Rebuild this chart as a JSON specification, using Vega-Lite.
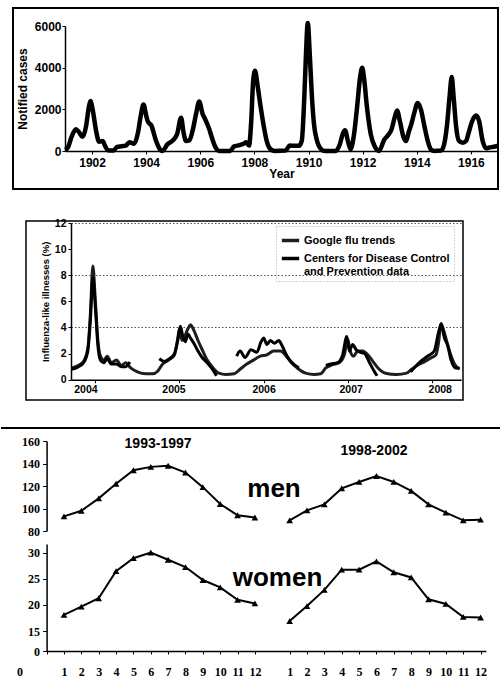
{
  "$schema": "https://vega.github.io/schema/vega-lite/v6.json",
  "padding": {"left": 0, "top": 7, "right": 0, "bottom": 0},
  "background": "white",
  "bounds": "full",
  "spacing": 25,
  "config": {
    "view": {"stroke": "black", "strokeWidth": 2},
    "axis": {
      "domainColor": "black", "domainWidth": 1.5, "tickColor": "black", "labelColor": "black", "titleColor": "black",
      "grid": false, "labelFont": "Liberation Sans", "titleFont": "Liberation Sans",
      "labelFontWeight": "bold", "titleFontWeight": "bold", "labelOverlap": false
    },
    "legend": {
      "labelFont": "Liberation Sans", "labelFontWeight": "bold", "labelFontSize": 11, "labelColor": "black",
      "symbolType": "stroke", "symbolStrokeWidth": 3.5, "symbolSize": 300, "strokeColor": "#aaaaaa",
      "strokeDash": [1, 2], "padding": 4, "rowPadding": -3, "labelOffset": 3, "labelLimit": 300
    }
  },
  "datasets": {
    "flu": [
      {"s":"Google flu trends","g":"G","t":2003.72,"v":0.9},{"s":"Google flu trends","g":"G","t":2003.8,"v":1.1},{"s":"Google flu trends","g":"G","t":2003.86,"v":1.4},{"s":"Google flu trends","g":"G","t":2003.91,"v":2.4},{"s":"Google flu trends","g":"G","t":2003.94,"v":5.0},{"s":"Google flu trends","g":"G","t":2003.97,"v":8.7},{"s":"Google flu trends","g":"G","t":2004.0,"v":6.0},{"s":"Google flu trends","g":"G","t":2004.03,"v":3.0},{"s":"Google flu trends","g":"G","t":2004.06,"v":1.8},{"s":"Google flu trends","g":"G","t":2004.1,"v":1.5},{"s":"Google flu trends","g":"G","t":2004.14,"v":1.8},{"s":"Google flu trends","g":"G","t":2004.19,"v":1.3},{"s":"Google flu trends","g":"G","t":2004.25,"v":1.5},{"s":"Google flu trends","g":"G","t":2004.31,"v":1.1},{"s":"Google flu trends","g":"G","t":2004.36,"v":1.3},{"s":"Google flu trends","g":"G","t":2004.42,"v":0.9},{"s":"Google flu trends","g":"G","t":2004.5,"v":0.6},{"s":"Google flu trends","g":"G","t":2004.6,"v":0.45},{"s":"Google flu trends","g":"G","t":2004.68,"v":0.45},{"s":"Google flu trends","g":"G","t":2004.74,"v":0.65},{"s":"Google flu trends","g":"G","t":2004.8,"v":1.2},{"s":"Google flu trends","g":"G","t":2004.87,"v":1.5},{"s":"Google flu trends","g":"G","t":2004.94,"v":1.9},{"s":"Google flu trends","g":"G","t":2004.98,"v":3.2},{"s":"Google flu trends","g":"G","t":2005.0,"v":3.9},{"s":"Google flu trends","g":"G","t":2005.03,"v":3.0},{"s":"Google flu trends","g":"G","t":2005.06,"v":3.3},{"s":"Google flu trends","g":"G","t":2005.1,"v":3.9},{"s":"Google flu trends","g":"G","t":2005.13,"v":4.2},{"s":"Google flu trends","g":"G","t":2005.17,"v":3.8},{"s":"Google flu trends","g":"G","t":2005.22,"v":3.0},{"s":"Google flu trends","g":"G","t":2005.27,"v":2.3},{"s":"Google flu trends","g":"G","t":2005.33,"v":1.5},{"s":"Google flu trends","g":"G","t":2005.4,"v":0.9},{"s":"Google flu trends","g":"G","t":2005.47,"v":0.5},{"s":"Google flu trends","g":"G","t":2005.55,"v":0.4},{"s":"Google flu trends","g":"G","t":2005.65,"v":0.45},{"s":"Google flu trends","g":"G","t":2005.72,"v":0.8},{"s":"Google flu trends","g":"G","t":2005.8,"v":1.2},{"s":"Google flu trends","g":"G","t":2005.88,"v":1.5},{"s":"Google flu trends","g":"G","t":2005.96,"v":1.8},{"s":"Google flu trends","g":"G","t":2006.04,"v":1.9},{"s":"Google flu trends","g":"G","t":2006.12,"v":2.2},{"s":"Google flu trends","g":"G","t":2006.2,"v":2.2},{"s":"Google flu trends","g":"G","t":2006.27,"v":1.8},{"s":"Google flu trends","g":"G","t":2006.33,"v":1.3},{"s":"Google flu trends","g":"G","t":2006.4,"v":0.9},{"s":"Google flu trends","g":"G","t":2006.5,"v":0.5},{"s":"Google flu trends","g":"G","t":2006.6,"v":0.4},{"s":"Google flu trends","g":"G","t":2006.68,"v":0.45},{"s":"Google flu trends","g":"G","t":2006.74,"v":0.9},{"s":"Google flu trends","g":"G","t":2006.82,"v":1.15},{"s":"Google flu trends","g":"G","t":2006.9,"v":1.3},{"s":"Google flu trends","g":"G","t":2006.96,"v":1.9},{"s":"Google flu trends","g":"G","t":2007.0,"v":3.1},{"s":"Google flu trends","g":"G","t":2007.03,"v":2.2},{"s":"Google flu trends","g":"G","t":2007.07,"v":1.8},{"s":"Google flu trends","g":"G","t":2007.12,"v":2.2},{"s":"Google flu trends","g":"G","t":2007.18,"v":2.2},{"s":"Google flu trends","g":"G","t":2007.24,"v":1.9},{"s":"Google flu trends","g":"G","t":2007.3,"v":1.4},{"s":"Google flu trends","g":"G","t":2007.36,"v":0.9},{"s":"Google flu trends","g":"G","t":2007.45,"v":0.5},{"s":"Google flu trends","g":"G","t":2007.58,"v":0.4},{"s":"Google flu trends","g":"G","t":2007.7,"v":0.5},{"s":"Google flu trends","g":"G","t":2007.76,"v":0.8},{"s":"Google flu trends","g":"G","t":2007.84,"v":1.15},{"s":"Google flu trends","g":"G","t":2007.92,"v":1.4},{"s":"Google flu trends","g":"G","t":2008.0,"v":1.7},{"s":"Google flu trends","g":"G","t":2008.05,"v":1.9},{"s":"Google flu trends","g":"G","t":2008.08,"v":2.8},{"s":"Google flu trends","g":"G","t":2008.11,"v":4.3},{"s":"Google flu trends","g":"G","t":2008.14,"v":3.8},{"s":"Google flu trends","g":"G","t":2008.18,"v":2.9},{"s":"Google flu trends","g":"G","t":2008.22,"v":2.0},{"s":"Google flu trends","g":"G","t":2008.27,"v":1.2},{"s":"Google flu trends","g":"G","t":2008.33,"v":0.8},
      {"s":"Centers for Disease Control and Prevention data","g":"C1","t":2003.72,"v":0.8},{"s":"Centers for Disease Control and Prevention data","g":"C1","t":2003.8,"v":1.0},{"s":"Centers for Disease Control and Prevention data","g":"C1","t":2003.86,"v":1.3},{"s":"Centers for Disease Control and Prevention data","g":"C1","t":2003.91,"v":2.2},{"s":"Centers for Disease Control and Prevention data","g":"C1","t":2003.94,"v":4.5},{"s":"Centers for Disease Control and Prevention data","g":"C1","t":2003.97,"v":7.8},{"s":"Centers for Disease Control and Prevention data","g":"C1","t":2004.0,"v":5.5},{"s":"Centers for Disease Control and Prevention data","g":"C1","t":2004.03,"v":2.6},{"s":"Centers for Disease Control and Prevention data","g":"C1","t":2004.06,"v":1.5},{"s":"Centers for Disease Control and Prevention data","g":"C1","t":2004.1,"v":1.3},{"s":"Centers for Disease Control and Prevention data","g":"C1","t":2004.14,"v":1.6},{"s":"Centers for Disease Control and Prevention data","g":"C1","t":2004.19,"v":1.2},{"s":"Centers for Disease Control and Prevention data","g":"C1","t":2004.25,"v":1.2},{"s":"Centers for Disease Control and Prevention data","g":"C1","t":2004.31,"v":1.0},{"s":"Centers for Disease Control and Prevention data","g":"C1","t":2004.36,"v":1.0},{"s":"Centers for Disease Control and Prevention data","g":"C1","t":2004.41,"v":1.35},
      {"s":"Centers for Disease Control and Prevention data","g":"C2","t":2004.76,"v":1.6},{"s":"Centers for Disease Control and Prevention data","g":"C2","t":2004.82,"v":1.4},{"s":"Centers for Disease Control and Prevention data","g":"C2","t":2004.88,"v":1.6},{"s":"Centers for Disease Control and Prevention data","g":"C2","t":2004.94,"v":2.0},{"s":"Centers for Disease Control and Prevention data","g":"C2","t":2004.98,"v":3.0},{"s":"Centers for Disease Control and Prevention data","g":"C2","t":2005.01,"v":4.1},{"s":"Centers for Disease Control and Prevention data","g":"C2","t":2005.04,"v":3.3},{"s":"Centers for Disease Control and Prevention data","g":"C2","t":2005.07,"v":2.9},{"s":"Centers for Disease Control and Prevention data","g":"C2","t":2005.1,"v":3.5},{"s":"Centers for Disease Control and Prevention data","g":"C2","t":2005.13,"v":3.2},{"s":"Centers for Disease Control and Prevention data","g":"C2","t":2005.17,"v":2.8},{"s":"Centers for Disease Control and Prevention data","g":"C2","t":2005.22,"v":2.2},{"s":"Centers for Disease Control and Prevention data","g":"C2","t":2005.27,"v":1.7},{"s":"Centers for Disease Control and Prevention data","g":"C2","t":2005.33,"v":1.3},{"s":"Centers for Disease Control and Prevention data","g":"C2","t":2005.38,"v":0.9},{"s":"Centers for Disease Control and Prevention data","g":"C2","t":2005.44,"v":0.3},
      {"s":"Centers for Disease Control and Prevention data","g":"C3","t":2005.68,"v":1.8},{"s":"Centers for Disease Control and Prevention data","g":"C3","t":2005.72,"v":2.2},{"s":"Centers for Disease Control and Prevention data","g":"C3","t":2005.78,"v":1.7},{"s":"Centers for Disease Control and Prevention data","g":"C3","t":2005.85,"v":2.3},{"s":"Centers for Disease Control and Prevention data","g":"C3","t":2005.92,"v":2.1},{"s":"Centers for Disease Control and Prevention data","g":"C3","t":2005.97,"v":2.9},{"s":"Centers for Disease Control and Prevention data","g":"C3","t":2006.0,"v":3.2},{"s":"Centers for Disease Control and Prevention data","g":"C3","t":2006.04,"v":2.7},{"s":"Centers for Disease Control and Prevention data","g":"C3","t":2006.08,"v":3.0},{"s":"Centers for Disease Control and Prevention data","g":"C3","t":2006.13,"v":2.8},{"s":"Centers for Disease Control and Prevention data","g":"C3","t":2006.18,"v":3.0},{"s":"Centers for Disease Control and Prevention data","g":"C3","t":2006.22,"v":2.6},{"s":"Centers for Disease Control and Prevention data","g":"C3","t":2006.28,"v":1.8},{"s":"Centers for Disease Control and Prevention data","g":"C3","t":2006.34,"v":1.3},{"s":"Centers for Disease Control and Prevention data","g":"C3","t":2006.42,"v":0.9},
      {"s":"Centers for Disease Control and Prevention data","g":"C4","t":2006.74,"v":1.1},{"s":"Centers for Disease Control and Prevention data","g":"C4","t":2006.8,"v":1.2},{"s":"Centers for Disease Control and Prevention data","g":"C4","t":2006.88,"v":1.3},{"s":"Centers for Disease Control and Prevention data","g":"C4","t":2006.94,"v":1.9},{"s":"Centers for Disease Control and Prevention data","g":"C4","t":2006.99,"v":3.3},{"s":"Centers for Disease Control and Prevention data","g":"C4","t":2007.02,"v":2.2},{"s":"Centers for Disease Control and Prevention data","g":"C4","t":2007.06,"v":2.7},{"s":"Centers for Disease Control and Prevention data","g":"C4","t":2007.1,"v":2.3},{"s":"Centers for Disease Control and Prevention data","g":"C4","t":2007.15,"v":2.1},{"s":"Centers for Disease Control and Prevention data","g":"C4","t":2007.2,"v":2.0},{"s":"Centers for Disease Control and Prevention data","g":"C4","t":2007.26,"v":1.3},{"s":"Centers for Disease Control and Prevention data","g":"C4","t":2007.32,"v":0.6},{"s":"Centers for Disease Control and Prevention data","g":"C4","t":2007.35,"v":0.3},
      {"s":"Centers for Disease Control and Prevention data","g":"C5","t":2007.75,"v":0.6},{"s":"Centers for Disease Control and Prevention data","g":"C5","t":2007.85,"v":1.3},{"s":"Centers for Disease Control and Prevention data","g":"C5","t":2007.95,"v":1.8},{"s":"Centers for Disease Control and Prevention data","g":"C5","t":2008.03,"v":2.2},{"s":"Centers for Disease Control and Prevention data","g":"C5","t":2008.08,"v":3.6},{"s":"Centers for Disease Control and Prevention data","g":"C5","t":2008.11,"v":4.2},{"s":"Centers for Disease Control and Prevention data","g":"C5","t":2008.15,"v":3.2},{"s":"Centers for Disease Control and Prevention data","g":"C5","t":2008.19,"v":2.6},{"s":"Centers for Disease Control and Prevention data","g":"C5","t":2008.23,"v":1.5},{"s":"Centers for Disease Control and Prevention data","g":"C5","t":2008.28,"v":0.9},{"s":"Centers for Disease Control and Prevention data","g":"C5","t":2008.33,"v":0.9}
    ],
    "seasonal": [
      {"period":"1993-1997","pos":1,"men":93,"women":18.1},{"period":"1993-1997","pos":2,"men":98,"women":19.7},{"period":"1993-1997","pos":3,"men":109,"women":21.3},{"period":"1993-1997","pos":4,"men":122,"women":26.5},{"period":"1993-1997","pos":5,"men":134,"women":29.0},{"period":"1993-1997","pos":6,"men":137,"women":30.1},{"period":"1993-1997","pos":7,"men":138,"women":28.7},{"period":"1993-1997","pos":8,"men":132,"women":27.3},{"period":"1993-1997","pos":9,"men":119,"women":24.8},{"period":"1993-1997","pos":10,"men":104,"women":23.4},{"period":"1993-1997","pos":11,"men":94,"women":21.0},{"period":"1993-1997","pos":12,"men":92,"women":20.3},
      {"period":"1998-2002","pos":14,"men":89.5,"women":16.9},{"period":"1998-2002","pos":15,"men":98.4,"women":19.8},{"period":"1998-2002","pos":16,"men":103.7,"women":22.9},{"period":"1998-2002","pos":17,"men":118,"women":26.8},{"period":"1998-2002","pos":18,"men":123.6,"women":26.8},{"period":"1998-2002","pos":19,"men":128.9,"women":28.4},{"period":"1998-2002","pos":20,"men":123.6,"women":26.3},{"period":"1998-2002","pos":21,"men":115.6,"women":25.3},{"period":"1998-2002","pos":22,"men":103.7,"women":21.1},{"period":"1998-2002","pos":23,"men":96.3,"women":20.2},{"period":"1998-2002","pos":24,"men":89.5,"women":17.7},{"period":"1998-2002","pos":25,"men":90.1,"women":17.6}
    ]
  },
  "vconcat": [
    {
      "hconcat": [
        {"width": 12, "height": 184, "view": {"stroke": null}, "data": {"values": []}, "mark": "point", "encoding": {}},
        {
          "width": 485, "height": 181,
          "data": {"values": [
            {"year":1901.0,"cases":50},{"year":1901.1,"cases":150},{"year":1901.25,"cases":700},{"year":1901.4,"cases":1050},{"year":1901.52,"cases":900},{"year":1901.65,"cases":680},{"year":1901.78,"cases":1200},{"year":1901.88,"cases":2100},{"year":1901.94,"cases":2400},{"year":1902.02,"cases":2000},{"year":1902.15,"cases":960},{"year":1902.26,"cases":450},{"year":1902.39,"cases":480},{"year":1902.48,"cases":250},{"year":1902.58,"cases":40},{"year":1902.8,"cases":20},{"year":1902.92,"cases":200},{"year":1903.1,"cases":230},{"year":1903.25,"cases":260},{"year":1903.38,"cases":420},{"year":1903.55,"cases":350},{"year":1903.7,"cases":900},{"year":1903.8,"cases":1700},{"year":1903.9,"cases":2230},{"year":1904.0,"cases":1700},{"year":1904.05,"cases":1450},{"year":1904.2,"cases":1200},{"year":1904.36,"cases":500},{"year":1904.52,"cases":60},{"year":1904.6,"cases":0},{"year":1904.79,"cases":330},{"year":1904.98,"cases":500},{"year":1905.14,"cases":800},{"year":1905.29,"cases":1600},{"year":1905.38,"cases":900},{"year":1905.47,"cases":480},{"year":1905.6,"cases":520},{"year":1905.72,"cases":1000},{"year":1905.84,"cases":1760},{"year":1905.96,"cases":2380},{"year":1906.08,"cases":1800},{"year":1906.17,"cases":1550},{"year":1906.33,"cases":1050},{"year":1906.45,"cases":550},{"year":1906.55,"cases":200},{"year":1906.7,"cases":0},{"year":1907.1,"cases":0},{"year":1907.25,"cases":220},{"year":1907.45,"cases":280},{"year":1907.6,"cases":350},{"year":1907.7,"cases":420},{"year":1907.8,"cases":260},{"year":1907.88,"cases":1400},{"year":1907.95,"cases":3300},{"year":1908.02,"cases":3850},{"year":1908.12,"cases":3100},{"year":1908.22,"cases":2200},{"year":1908.33,"cases":1300},{"year":1908.45,"cases":500},{"year":1908.6,"cases":80},{"year":1908.75,"cases":0},{"year":1909.15,"cases":20},{"year":1909.3,"cases":260},{"year":1909.45,"cases":250},{"year":1909.65,"cases":250},{"year":1909.75,"cases":500},{"year":1909.84,"cases":2500},{"year":1909.9,"cases":4500},{"year":1909.97,"cases":6150},{"year":1910.05,"cases":4500},{"year":1910.12,"cases":2700},{"year":1910.2,"cases":1300},{"year":1910.3,"cases":550},{"year":1910.47,"cases":80},{"year":1910.6,"cases":0},{"year":1911.0,"cases":0},{"year":1911.15,"cases":300},{"year":1911.27,"cases":850},{"year":1911.35,"cases":1000},{"year":1911.45,"cases":500},{"year":1911.55,"cases":80},{"year":1911.68,"cases":800},{"year":1911.8,"cases":2200},{"year":1911.9,"cases":3500},{"year":1911.98,"cases":4000},{"year":1912.05,"cases":3500},{"year":1912.15,"cases":2200},{"year":1912.3,"cases":800},{"year":1912.45,"cases":200},{"year":1912.6,"cases":0},{"year":1912.8,"cases":550},{"year":1912.93,"cases":750},{"year":1913.07,"cases":1050},{"year":1913.18,"cases":1600},{"year":1913.27,"cases":1950},{"year":1913.38,"cases":1400},{"year":1913.5,"cases":700},{"year":1913.6,"cases":480},{"year":1913.7,"cases":900},{"year":1913.8,"cases":1300},{"year":1913.9,"cases":1800},{"year":1914.03,"cases":2300},{"year":1914.15,"cases":2000},{"year":1914.28,"cases":1200},{"year":1914.4,"cases":500},{"year":1914.52,"cases":80},{"year":1914.65,"cases":0},{"year":1914.9,"cases":20},{"year":1915.01,"cases":320},{"year":1915.12,"cases":1300},{"year":1915.21,"cases":2600},{"year":1915.29,"cases":3550},{"year":1915.36,"cases":2600},{"year":1915.45,"cases":1200},{"year":1915.55,"cases":500},{"year":1915.7,"cases":400},{"year":1915.82,"cases":480},{"year":1915.92,"cases":900},{"year":1916.05,"cases":1450},{"year":1916.19,"cases":1700},{"year":1916.3,"cases":1450},{"year":1916.43,"cases":500},{"year":1916.56,"cases":130},{"year":1916.68,"cases":170},{"year":1916.84,"cases":200},{"year":1917.0,"cases":250}
          ]},
          "mark": {"type": "line", "interpolate": "monotone", "strokeWidth": 4.5, "color": "black", "strokeJoin": "round"},
          "encoding": {
            "x": {"field": "year", "type": "quantitative",
              "scale": {"domain": [1901, 1917], "range": [52, 485], "nice": false, "zero": false},
              "axis": {"title": "Year", "values": [1902,1904,1906,1908,1910,1912,1914,1916], "format": "d", "offset": -38, "labelOverlap": false,
                "labelFontSize": 12, "titleFontSize": 12, "tickSize": 3, "labelPadding": 3, "titlePadding": 0}},
            "y": {"field": "cases", "type": "quantitative",
              "scale": {"domain": [0, 6000], "range": [143, 18], "nice": false},
              "axis": {"title": "Notified cases", "values": [0,2000,4000,6000], "format": "d", "offset": -52, "labelOverlap": false,
                "labelFontSize": 12, "titleFontSize": 12, "tickSize": 3, "labelPadding": 1, "titlePadding": 5}}
          }
        }
      ],
      "spacing": 0, "bounds": "flush"
    },
    {
      "hconcat": [
        {"width": 25, "height": 179, "view": {"stroke": null}, "data": {"values": []}, "mark": "point", "encoding": {}},
        {
          "width": 437, "height": 179,
          "view": {"stroke": "black", "strokeWidth": 1.5},
          "data": {"name": "flu"},
          "mark": {"type": "line", "interpolate": "monotone", "strokeWidth": 3, "strokeJoin": "round"},
          "encoding": {
            "x": {"field": "t", "type": "quantitative",
              "scale": {"domain": [2003.71, 2008.35], "range": [45, 435.2], "nice": false, "zero": false},
              "axis": {"title": null, "values": [2004,2005,2006,2007,2008], "format": "d", "offset": -20.3, "labelOverlap": false,
                "labelFontSize": 10.5, "tickSize": 3, "labelPadding": 2,
                "labelOffset": {"condition": [{"test": "datum.value === 2004", "value": -10}, {"test": "datum.value === 2005", "value": -6}, {"test": "datum.value === 2007", "value": 3}, {"test": "datum.value === 2008", "value": 8}], "value": 0}}},
            "y": {"field": "v", "type": "quantitative",
              "scale": {"domain": [0, 12], "range": [158.7, 2], "nice": false},
              "axis": {"title": "Influenza-like illnesses (%)", "values": [0,2,4,6,8,10,12], "offset": -45, "labelOverlap": false,
                "labelFontSize": 10.5, "titleFontSize": 9.5, "tickSize": 3, "labelPadding": 2, "titlePadding": 4,
                "grid": true, "gridColor": "#333333", "gridDash": [1.5, 2], "gridWidth": 1,
                "gridOpacity": {"condition": {"test": "datum.value % 4 === 0 && datum.value > 0", "value": 0.85}, "value": 0}}},
            "color": {"field": "s", "type": "nominal",
              "scale": {"domain": ["Google flu trends", "Centers for Disease Control and Prevention data"], "range": ["#1e1e1e", "#000000"]},
              "legend": {"title": null, "orient": "none", "legendX": 275, "legendY": 218,
                "labelExpr": "datum.label == 'Google flu trends' ? datum.label : ['Centers for Disease Control', 'and Prevention data']"}},
            "detail": {"field": "g", "type": "nominal"}
          }
        }
      ],
      "spacing": 0, "bounds": "flush"
    },
    {
      "vconcat": [
        {
          "width": 500, "height": 106,
          "view": {"stroke": null},
          "encoding": {
            "y": {"field": "men", "type": "quantitative",
              "scale": {"domain": [80, 160], "range": [103, 13], "nice": false, "zero": false},
              "axis": {"title": null, "values": [80,100,120,140,160], "offset": -45.6, "labelFont": "Liberation Serif", "labelOverlap": false,
                "labelFontSize": 12, "tickSize": 4, "labelPadding": 3}}
          },
          "layer": [
            {
              "data": {"values": [{"men": 171.6}]},
              "mark": {"type": "rule", "strokeWidth": 2, "color": "black", "clip": false}
            },
            {
              "data": {"name": "seasonal"},
              "mark": {"type": "line", "strokeWidth": 2, "color": "black"},
              "encoding": {
                "x": {"field": "pos", "type": "quantitative", "scale": {"domain": [0, 25.3], "range": [45.6, 484.8], "nice": false, "zero": false}, "axis": null},
                "detail": {"field": "period", "type": "nominal"}
              }
            },
            {
              "data": {"name": "seasonal"},
              "mark": {"type": "point", "shape": "triangle-up", "filled": true, "size": 45, "color": "black", "opacity": 1},
              "encoding": {
                "x": {"field": "pos", "type": "quantitative", "scale": {"domain": [0, 25.3], "range": [45.6, 484.8], "nice": false, "zero": false}, "axis": null}
              }
            },
            {
              "data": {"values": [{"label": "1993-1997", "pos": 6.42, "men": 157.3}, {"label": "1998-2002", "pos": 18.86, "men": 151.1}]},
              "mark": {"type": "text", "font": "Liberation Sans", "fontWeight": "bold", "fontSize": 14, "align": "center", "baseline": "middle", "color": "black"},
              "encoding": {
                "x": {"field": "pos", "type": "quantitative", "scale": {"domain": [0, 25.3], "range": [45.6, 484.8], "nice": false, "zero": false}, "axis": null},
                "text": {"field": "label"}
              }
            },
            {
              "data": {"values": [{"label": "men", "pos": 13.1, "men": 117.3}]},
              "mark": {"type": "text", "font": "Liberation Sans", "fontWeight": "bold", "fontSize": 26, "align": "center", "baseline": "middle", "color": "black"},
              "encoding": {
                "x": {"field": "pos", "type": "quantitative", "scale": {"domain": [0, 25.3], "range": [45.6, 484.8], "nice": false, "zero": false}, "axis": null},
                "text": {"field": "label"}
              }
            }
          ]
        },
        {
          "width": 500, "height": 107,
          "view": {"stroke": null},
          "encoding": {
            "x": {"field": "pos", "type": "quantitative", "scale": {"domain": [0, 25.3], "range": [45.6, 484.8], "nice": false, "zero": false},
              "axis": {"title": null, "values": [0,1,2,3,4,5,6,7,8,9,10,11,12,14,15,16,17,18,19,20,21,22,23,24,25],
                "labelExpr": "datum.value > 13 ? datum.value - 13 : datum.value", "labelOverlap": false,
                "labelFont": "Liberation Serif", "labelFontSize": 12, "tickSize": 3, "labelPadding": 12,
                "labelOffset": {"condition": {"test": "datum.value === 0", "value": -30}, "value": 0}}},
            "y": {"field": "women", "type": "quantitative",
              "scale": {"domain": [0, 15, 31.73], "range": [107, 87, 0], "nice": false, "zero": false},
              "axis": {"title": null, "values": [0,15,20,25,30], "offset": -45.6, "labelFont": "Liberation Serif", "labelOverlap": false,
                "labelFontSize": 12, "tickSize": 4, "labelPadding": 3}}
          },
          "layer": [
            {
              "data": {"name": "seasonal"},
              "mark": {"type": "line", "strokeWidth": 2, "color": "black"},
              "encoding": {"detail": {"field": "period", "type": "nominal"}}
            },
            {
              "data": {"name": "seasonal"},
              "mark": {"type": "point", "shape": "triangle-up", "filled": true, "size": 45, "color": "black", "opacity": 1}
            },
            {
              "data": {"values": [{"label": "women", "pos": 13.3, "women": 25.2}]},
              "mark": {"type": "text", "font": "Liberation Sans", "fontWeight": "bold", "fontSize": 26, "align": "center", "baseline": "middle", "color": "black"},
              "encoding": {"text": {"field": "label"}}
            }
          ]
        }
      ],
      "spacing": 10, "bounds": "flush"
    }
  ]
}
